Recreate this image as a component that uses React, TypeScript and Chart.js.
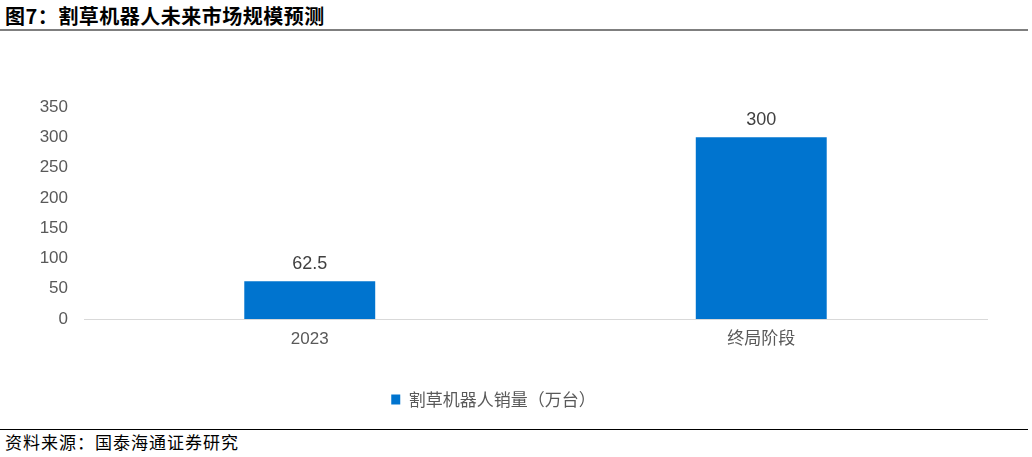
import { useEffect, useRef } from 'react';
import { Chart, registerables } from 'chart.js';

Chart.register(...registerables);

const categories = ['2023', '终局阶段'];
const seriesName = '割草机器人销量（万台）';
const sales = [62.5, 300];
const yTicks = [0, 50, 100, 150, 200, 250, 300, 350];

const BAR = '#0074CF';
const SANS = '"Liberation Sans", Arial, "Noto Sans CJK SC", sans-serif';

const valueLabels = {
    id: 'valueLabels',
    afterDatasetsDraw(chart: Chart) {
        const { ctx } = chart;
        const meta = chart.getDatasetMeta(0);
        ctx.save();
        ctx.font = `18px ${SANS}`;
        ctx.fillStyle = '#404040';
        ctx.textAlign = 'center';
        ctx.textBaseline = 'bottom';
        meta.data.forEach((bar, i) => {
            ctx.fillText(String(sales[i]), bar.x, bar.y - 8);
        });
        ctx.restore();
    },
};

export default function App() {
    const canvasRef = useRef<HTMLCanvasElement>(null);

    useEffect(() => {
        document.body.style.margin = '0';
        if (!canvasRef.current) return;
        const chart = new Chart(canvasRef.current, {
            type: 'bar',
            data: {
                labels: categories,
                datasets: [
                    {
                        label: seriesName,
                        data: sales,
                        backgroundColor: BAR,
                        categoryPercentage: 1,
                        barPercentage: 0.29,
                    },
                ],
            },
            options: {
                animation: false,
                responsive: false,
                maintainAspectRatio: false,
                layout: { padding: { top: 67, right: 45, bottom: 2, left: 0 } },
                plugins: {
                    tooltip: { enabled: false },
                    legend: {
                        position: 'bottom',
                        labels: {
                            boxWidth: 9,
                            boxHeight: 10,
                            padding: 10,
                            color: '#595959',
                            font: { size: 17, family: '"Noto Sans CJK SC", sans-serif' },
                        },
                    },
                },
                scales: {
                    x: {
                        grid: { display: false, drawTicks: false },
                        border: { color: '#d9d9d9', width: 1 },
                        ticks: {
                            color: '#595959',
                            padding: 10,
                            font: { size: 17, family: SANS },
                        },
                        afterFit: (scale: any) => {
                            scale.height = 62;
                        },
                    },
                    y: {
                        min: 0,
                        max: 350,
                        afterBuildTicks: (scale: any) => {
                            scale.ticks = yTicks.map((v) => ({ value: v }));
                        },
                        grid: { display: false, drawTicks: false },
                        border: { display: false },
                        ticks: {
                            color: '#595959',
                            padding: 16,
                            font: { size: 17, family: SANS },
                        },
                        afterFit: (scale: any) => {
                            scale.width = 84;
                        },
                    },
                },
            },
            plugins: [valueLabels],
        });
        return () => chart.destroy();
    }, []);

    return (
        <div
            style={{
                position: 'relative',
                width: 1032,
                height: 457,
                background: '#fff',
                overflow: 'hidden',
                fontFamily: '"Noto Sans CJK SC", sans-serif',
            }}
        >
            <div
                style={{
                    position: 'absolute',
                    left: 5,
                    top: 3,
                    fontSize: 20,
                    fontWeight: 'bold',
                    color: '#000',
                    lineHeight: '26px',
                    letterSpacing: 0.5,
                }}
            >
                图7：割草机器人未来市场规模预测
            </div>
            <div
                style={{
                    position: 'absolute',
                    left: 0,
                    top: 29,
                    width: 1028,
                    height: 2,
                    background: '#7f7f7f',
                }}
            />
            <canvas
                ref={canvasRef}
                width={1032}
                height={380}
                style={{ position: 'absolute', left: 0, top: 40, width: 1032, height: 380 }}
            />
            <div
                style={{
                    position: 'absolute',
                    left: 0,
                    top: 429,
                    width: 1028,
                    height: 1,
                    background: '#000',
                }}
            />
            <div
                style={{
                    position: 'absolute',
                    left: 5,
                    top: 431,
                    fontSize: 17,
                    color: '#000',
                    lineHeight: '22px',
                    letterSpacing: 1,
                }}
            >
                资料来源：国泰海通证券研究
            </div>
        </div>
    );
}
